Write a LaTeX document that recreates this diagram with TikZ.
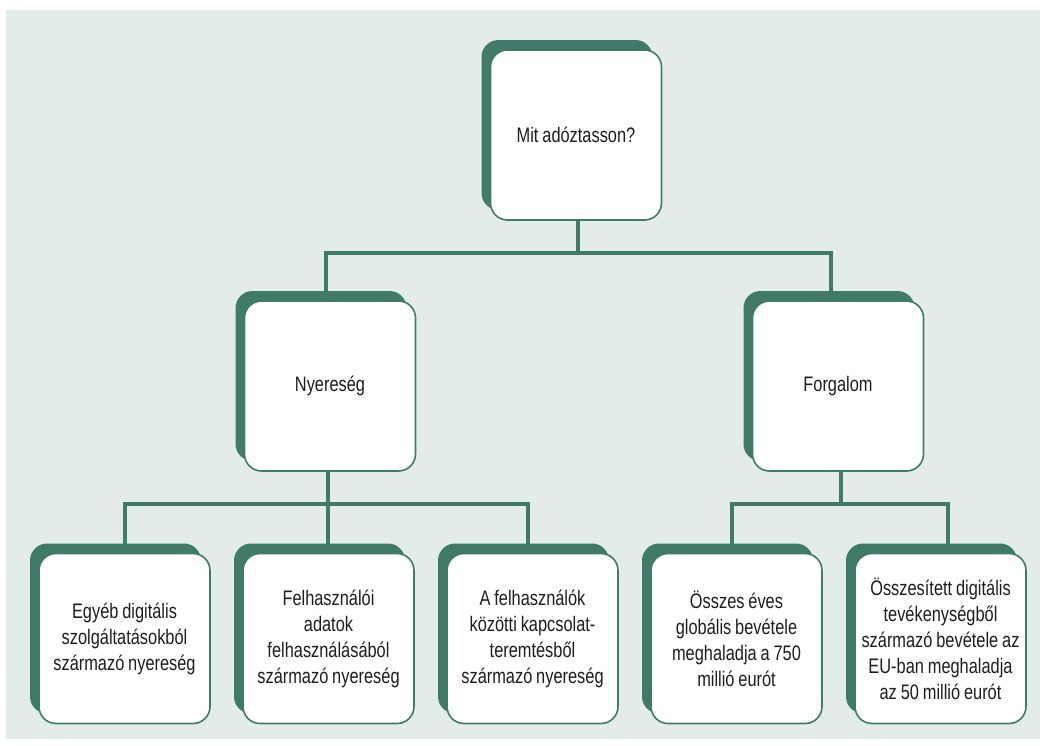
\documentclass[tikz,border=0pt]{standalone}
\usepackage{fontspec}
\setmainfont{Liberation Sans}[FakeStretch=0.78, WordSpace=0.85]
\usetikzlibrary{shadows,backgrounds}
\definecolor{boxgreen}{HTML}{3F7B68}
\definecolor{panelbg}{HTML}{E3ECE8}
\definecolor{inktext}{HTML}{1E1E1E}
\begin{document}
\begin{tikzpicture}[x=1pt,y=-1pt,
  card/.style={draw=boxgreen, line width=1.6pt, fill=white, rounded corners=17pt,
    minimum width=171pt, minimum height=170pt, inner sep=0pt,
    align=center, text=inktext,
    font=\fontsize{21}{26}\selectfont,
    general shadow={fill=boxgreen, shadow xshift=-9pt, shadow yshift=10pt}},
  link/.style={draw=boxgreen, line width=4.6pt, line join=miter}]
  \useasboundingbox (0,0) rectangle (1040,745);

  % branch points of the connectors
  \coordinate (r0) at (578,253);
  \coordinate (r1) at (326,253);
  \coordinate (r2) at (831,253);
  \coordinate (p0) at (328,504);
  \coordinate (p1) at (125,504);
  \coordinate (p2) at (328,504);
  \coordinate (p3) at (528,504);
  \coordinate (f0) at (841,504);
  \coordinate (f1) at (732,504);
  \coordinate (f2) at (948,504);

  % boxes
  \node[card] (root) at (576,135) {Mit adóztasson?};
  \node[card] (profit) at (330,386) {Nyereség};
  \node[card] (turnover) at (838,386) {Forgalom};
  \node[card] (b1) at (124.5,638.5) {Egyéb digitális\\szolgáltatásokból\\származó nyereség};
  \node[card] (b2) at (328.5,638.5) {Felhasználói\\adatok\\felhasználásából\\származó nyereség};
  \node[card] (b3) at (532.5,638.5) {A felhasználók\\közötti kapcsolat-\\teremtésből\\származó nyereség};
  \node[card] (b4) at (736.5,638.5) {Összes éves\\globális bevétele\\meghaladja a 750\\millió eurót};
  \node[card] (b5) at (940.5,638.5) {Összesített digitális\\tevékenységből\\származó bevétele az\\EU-ban meghaladja\\az 50 millió eurót};

  % panel and connectors, behind the boxes
  \begin{scope}[on background layer]
    \fill[panelbg] (6,10) rectangle (1040,739);
    % top level
    \draw[link] (root.south -| r0) -- (r0);
    \draw[link] (r1 |- profit.north) -- (r1) -- (r2) -- (r2 |- turnover.north);
    % profit branch
    \draw[link] (profit.south -| p0) -- (p0);
    \draw[link] (p1 |- b1.north) -- (p1) -- (p3) -- (p3 |- b3.north);
    \draw[link] (p2) -- (p2 |- b2.north);
    % turnover branch
    \draw[link] (turnover.south -| f0) -- (f0);
    \draw[link] (f1 |- b4.north) -- (f1) -- (f2) -- (f2 |- b5.north);
  \end{scope}
\end{tikzpicture}
\end{document}
